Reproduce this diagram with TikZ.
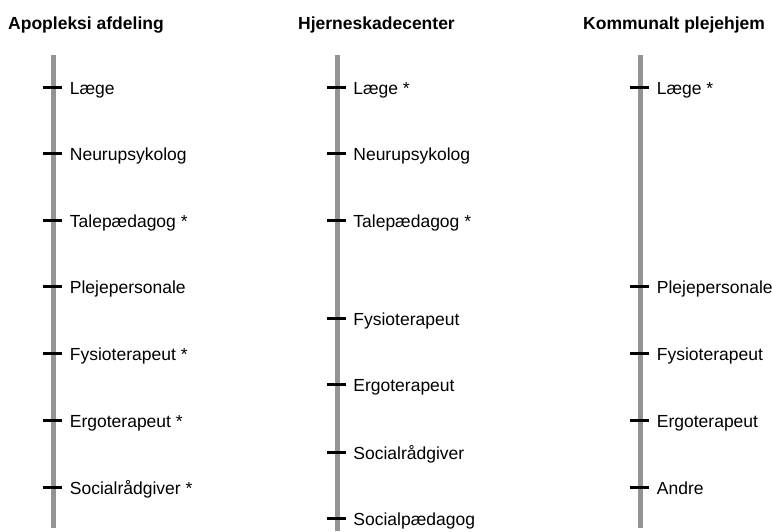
\documentclass[tikz,border=0pt]{standalone}
\usepackage{fontspec}
\setmainfont{Liberation Sans}
\usetikzlibrary{positioning}

\begin{document}
\begin{tikzpicture}[x=1pt, y=-1pt,
    title/.style={anchor=base west, inner sep=0pt, font=\fontsize{17.5}{20}\selectfont\bfseries},
    lbl/.style={inner sep=0pt, text height=15pt, text depth=0pt, font=\fontsize{17.5}{20}\selectfont},
    tick/.style={draw=none, fill=black, inner sep=0pt, minimum width=19pt, minimum height=3pt},
    bar/.style={draw=black!42, line width=5pt}]
    \useasboundingbox (0,0) rectangle (772,531);

    % Titles
    \node[title] (t1) at (8,29) {Apopleksi afdeling};
    \node[title] (t2) at (298,29) {Hjerneskadecenter};
    \node[title] (t3) at (583,29) {Kommunalt plejehjem};

    % Bars
    \coordinate (top1) at (53,55);
    \coordinate (bot1) at (53,528);
    \coordinate (top2) at (337,55);
    \coordinate (bot2) at (337,531);
    \coordinate (top3) at (640,55);
    \coordinate (bot3) at (640,528);
    \draw[bar] (top1) -- (bot1);
    \draw[bar] (top2) -- (bot2);
    \draw[bar] (top3) -- (bot3);

    % Apopleksi afdeling
    \node[tick] (a1) at (52.5,87) {};
    \node[tick] (a2) at (52.5,153) {};
    \node[tick] (a3) at (52.5,220) {};
    \node[tick] (a4) at (52.5,286) {};
    \node[tick] (a5) at (52.5,353) {};
    \node[tick] (a6) at (52.5,420) {};
    \node[tick] (a7) at (52.5,487) {};
    \node[lbl, right=7.5pt of a1] (la1) {Læge};
    \node[lbl, right=7.5pt of a2] (la2) {Neurupsykolog};
    \node[lbl, right=7.5pt of a3] (la3) {Talepædagog *};
    \node[lbl, right=7.5pt of a4] (la4) {Plejepersonale};
    \node[lbl, right=7.5pt of a5] (la5) {Fysioterapeut *};
    \node[lbl, right=7.5pt of a6] (la6) {Ergoterapeut *};
    \node[lbl, right=7.5pt of a7] (la7) {Socialrådgiver *};

    % Hjerneskadecenter
    \node[tick] (b1) at (336.5,87) {};
    \node[tick] (b2) at (336.5,153) {};
    \node[tick] (b3) at (336.5,220) {};
    \node[tick] (b4) at (336.5,318) {};
    \node[tick] (b5) at (336.5,384) {};
    \node[tick] (b6) at (336.5,452) {};
    \node[tick] (b7) at (336.5,518) {};
    \node[lbl, right=7pt of b1] (lb1) {Læge *};
    \node[lbl, right=7pt of b2] (lb2) {Neurupsykolog};
    \node[lbl, right=7pt of b3] (lb3) {Talepædagog *};
    \node[lbl, right=7pt of b4] (lb4) {Fysioterapeut};
    \node[lbl, right=7pt of b5] (lb5) {Ergoterapeut};
    \node[lbl, right=7pt of b6] (lb6) {Socialrådgiver};
    \node[lbl, right=7pt of b7] (lb7) {Socialpædagog};

    % Kommunalt plejehjem
    \node[tick] (c1) at (639.5,87) {};
    \node[tick] (c2) at (639.5,286) {};
    \node[tick] (c3) at (639.5,353) {};
    \node[tick] (c4) at (639.5,420) {};
    \node[tick] (c5) at (639.5,487) {};
    \node[lbl, right=7.5pt of c1] (lc1) {Læge *};
    \node[lbl, right=7.5pt of c2] (lc2) {Plejepersonale};
    \node[lbl, right=7.5pt of c3] (lc3) {Fysioterapeut};
    \node[lbl, right=7.5pt of c4] (lc4) {Ergoterapeut};
    \node[lbl, right=7.5pt of c5] (lc5) {Andre};
\end{tikzpicture}
\end{document}
